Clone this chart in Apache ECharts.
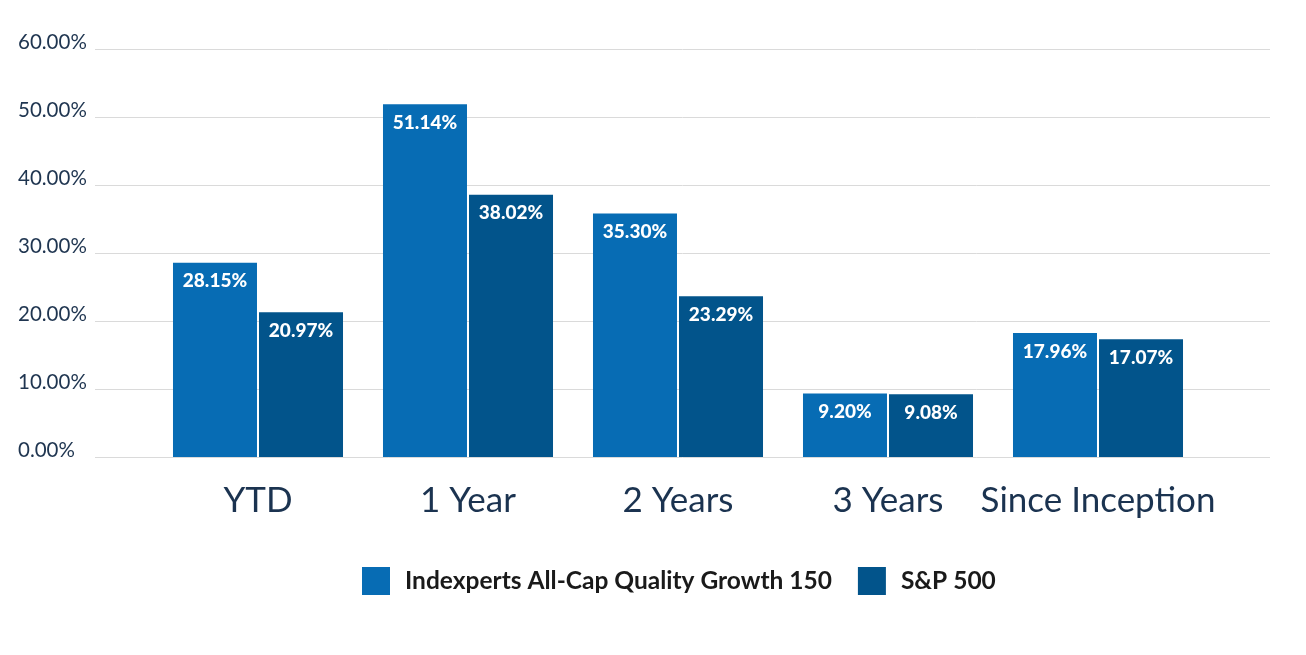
<!DOCTYPE html>
<html>
<head>
<meta charset="utf-8">
<script src="https://cdn.jsdelivr.net/npm/echarts@6/dist/echarts.min.js"></script>
<style>
html,body{margin:0;padding:0;background:#fff;}
#chart{width:1306px;height:655px;}
</style>
</head>
<body>
<div id="chart"></div>
<script>
var categories = ['YTD', '1 Year', '2 Years', '3 Years', 'Since Inception'];
var seriesNames = ['Indexperts All-Cap Quality Growth 150', 'S&P 500'];
var fundValues = [28.15, 51.14, 35.30, 9.20, 17.96];
var spValues = [20.97, 38.02, 23.29, 9.08, 17.07];
var yMin = 0, yMax = 60, yStep = 10;

var chart = echarts.init(document.getElementById('chart'), null, {renderer: 'canvas'});
var labelStyle = {
  show: true,
  position: 'insideTop',
  distance: 9,
  color: '#ffffff',
  fontFamily: 'Lato',
  fontWeight: 900,
  fontSize: 19,
  formatter: function (p) { return p.value.toFixed(2) + '%'; }
};
chart.setOption({
  animation: false,
  backgroundColor: '#ffffff',
  legend: {
    left: 357,
    top: 562,
    itemWidth: 28,
    itemHeight: 28,
    itemGap: 26,
    icon: 'rect',
    textStyle: {fontFamily: 'Lato', fontWeight: 'bold', fontSize: 24.5, color: '#1a1a1a', padding: [0, 0, 0, 10]},
    data: seriesNames
  },
  grid: [
    {left: 95, right: 36, top: 49, bottom: 198},
    {left: 153, right: 103, top: 43, bottom: 198}
  ],
  xAxis: [
    {gridIndex: 0, type: 'category', data: categories, show: false},
    {
      gridIndex: 1, type: 'category', data: categories,
      axisLine: {show: false}, axisTick: {show: false},
      axisLabel: {interval: 0, fontFamily: 'Lato', fontSize: 35, color: '#1b3350', margin: 26}
    }
  ],
  yAxis: [
    {
      gridIndex: 0, type: 'value', min: yMin, max: yMax, interval: yStep,
      axisLine: {show: false}, axisTick: {show: false},
      splitLine: {lineStyle: {color: '#dadada', width: 1}},
      axisLabel: {
        fontFamily: 'Lato', fontSize: 20.5, color: '#1f3550', align: 'left', margin: 77,
        verticalAlign: 'bottom', padding: [0, 0, -4, 0],
        formatter: function (v) { return v.toFixed(2) + '%'; }
      }
    },
    {gridIndex: 1, type: 'value', min: yMin, max: yMax, interval: yStep, show: false, splitLine: {show: false}}
  ],
  series: [
    {
      name: seriesNames[0], type: 'bar', xAxisIndex: 1, yAxisIndex: 1,
      data: fundValues, barWidth: 84, barGap: '2.4%',
      itemStyle: {color: '#076cb4'}, label: labelStyle
    },
    {
      name: seriesNames[1], type: 'bar', xAxisIndex: 1, yAxisIndex: 1,
      data: spValues, barWidth: 84, barGap: '2.4%',
      itemStyle: {color: '#02548b'}, label: labelStyle
    }
  ]
});
</script>
</body>
</html>
